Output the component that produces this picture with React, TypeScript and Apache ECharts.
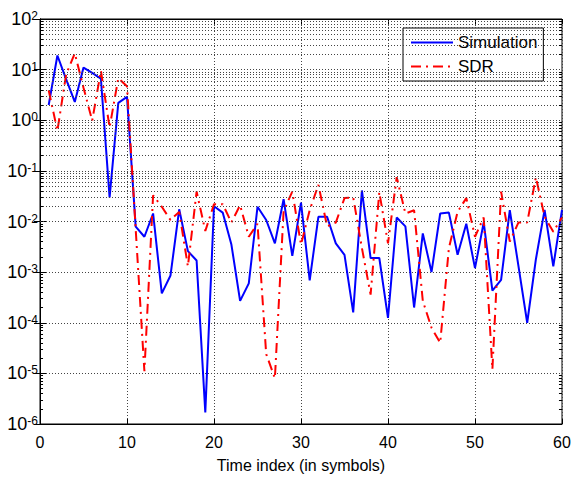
import React, { useEffect, useRef } from "react";
import * as echarts from "echarts";

const timeIndex = [
  1, 2, 3, 4, 5, 6, 7, 8, 9, 10, 11, 12, 13, 14, 15, 16, 17, 18, 19, 20,
  21, 22, 23, 24, 25, 26, 27, 28, 29, 30, 31, 32, 33, 34, 35, 36, 37, 38, 39, 40,
  41, 42, 43, 44, 45, 46, 47, 48, 49, 50, 51, 52, 53, 54, 55, 56, 57, 58, 59, 60,
];

const simulation = [
  2.0, 19, 6.5, 2.3, 11, 8.6, 6.6, 0.03, 2.2, 2.9,
  0.0079, 0.005, 0.0144, 3.8e-4, 8.6e-4, 0.0174, 0.0026, 0.0017, 1.7e-6, 0.02,
  0.015, 0.0035, 2.7e-4, 6e-4, 0.0195, 0.0107, 0.0037, 0.0275, 0.0021, 0.0235,
  6.9e-4, 0.0124, 0.0124, 0.0037, 0.0022, 1.6e-4, 0.041, 0.0019, 0.0019, 1.25e-4,
  0.012, 0.008, 2.0e-4, 0.0058, 0.001, 0.0144, 0.015, 0.0022, 0.009, 0.0012,
  0.0096, 4.3e-4, 7e-4, 0.0167, 0.0013, 1e-4, 0.0018, 0.017, 0.0013, 0.017,
];

const sdr = [
  3.9, 0.62, 8, 21, 4.4, 0.98, 9.5, 0.72, 6.8, 4.7,
  0.007, 1.1e-5, 0.033, 0.0195, 0.0107, 0.0155, 0.0013, 0.039, 0.0065, 0.022,
  0.022, 0.0096, 0.021, 0.005, 0.009, 2.4e-5, 8e-6, 0.016, 0.039, 0.0035,
  0.0167, 0.053, 0.008, 0.0095, 0.029, 0.03, 0.003, 3.6e-4, 0.038, 0.0037,
  0.075, 0.0144, 0.0167, 2.7e-4, 8e-5, 4e-5, 0.003, 0.0155, 0.029, 0.005,
  0.012, 1.2e-5, 0.039, 0.004, 0.0096, 0.0096, 0.075, 0.0124, 0.0063, 0.012,
];

const seriesNames = ["Simulation", "SDR"];
const xTitle = "Time index (in symbols)";
const decadeExponents = [-6, -5, -4, -3, -2, -1, 0, 1];
const minorMultipliers = [2, 3, 4, 5, 6, 7, 8, 9];
const xMin = 0;
const xMax = 60;

const FONT = "Liberation Sans";
const GRID_COLOR = "#444";

export default function App() {
  const ref = useRef<HTMLDivElement>(null);
  useEffect(() => {
    document.body.style.margin = "0";
    const chart = echarts.init(ref.current!, null, { renderer: "svg" });

    const minorValues: number[] = [];
    decadeExponents.forEach((e) =>
      minorMultipliers.forEach((m) => minorValues.push(m * Math.pow(10, e)))
    );

    const gridLines = minorValues.map((v) => ({ yAxis: v }));
    const tickMarks: any[] = [];
    minorValues.forEach((v) => {
      tickMarks.push([{ coord: [xMin, v] }, { coord: [xMin + 0.35, v] }]);
      tickMarks.push([{ coord: [xMax - 0.35, v] }, { coord: [xMax, v] }]);
    });

    const toPairs = (arr: number[]) => timeIndex.map((x, i) => [x, arr[i]]);

    chart.setOption({
      animation: false,
      textStyle: { fontFamily: FONT },
      grid: {
        left: 40,
        right: 12,
        top: 19,
        bottom: 51,
        show: true,
        borderColor: "#000",
        borderWidth: 1,
        backgroundColor: "#fff",
      },
      legend: {
        data: seriesNames,
        orient: "vertical",
        left: 403,
        top: 28,
        itemWidth: 42,
        itemHeight: 14,
        itemGap: 7,
        padding: [6, 6, 6, 7],
        borderColor: "#000",
        borderWidth: 1,
        backgroundColor: "#fff",
        itemStyle: { opacity: 0 },
        textStyle: { fontSize: 17, color: "#000", fontFamily: FONT },
      },
      xAxis: [
        {
          type: "value",
          min: xMin,
          max: xMax,
          interval: 10,
          name: xTitle,
          nameLocation: "middle",
          nameGap: 33,
          nameTextStyle: { fontSize: 16, color: "#000", fontFamily: FONT },
          axisLine: { show: true, lineStyle: { color: "#000", width: 1 } },
          axisTick: { show: true, inside: true, length: 5, lineStyle: { color: "#000" } },
          axisLabel: { fontSize: 16, color: "#000", margin: 10, fontFamily: FONT },
          splitLine: { show: true, lineStyle: { color: GRID_COLOR, type: [1, 2], width: 1 } },
        },
        {
          type: "value",
          position: "top",
          min: xMin,
          max: xMax,
          interval: 10,
          axisLine: { show: true, lineStyle: { color: "#000", width: 1 } },
          axisTick: { show: true, inside: true, length: 5, lineStyle: { color: "#000" } },
          axisLabel: { show: false },
          splitLine: { show: false },
        },
      ],
      yAxis: [
        {
          type: "log",
          logBase: 10,
          min: 1e-6,
          max: 100,
          axisLine: { show: true, lineStyle: { color: "#000", width: 1 } },
          axisTick: { show: true, inside: true, length: 6, lineStyle: { color: "#000" } },
          splitLine: { show: true, lineStyle: { color: GRID_COLOR, type: [1, 2], width: 1 } },
          axisLabel: {
            margin: 2,
            color: "#000",
            fontSize: 18,
            fontFamily: FONT,
            formatter: (v: number) => "{b|10}{e|" + Math.round(Math.log10(v)) + "}",
            rich: {
              b: { fontSize: 18, lineHeight: 18, verticalAlign: "bottom", fontFamily: FONT, color: "#000" },
              e: { fontSize: 12, lineHeight: 12, verticalAlign: "top", padding: [0, 0, 18, 0], fontFamily: FONT, color: "#000" },
            },
          },
        },
        {
          type: "log",
          logBase: 10,
          min: 1e-6,
          max: 100,
          position: "right",
          axisLine: { show: true, lineStyle: { color: "#000", width: 1 } },
          axisTick: { show: true, inside: true, length: 6, lineStyle: { color: "#000" } },
          axisLabel: { show: false },
          splitLine: { show: false },
        },
      ],
      series: [
        {
          name: "minorGrid",
          type: "line",
          data: [],
          silent: true,
          z: 1,
          markLine: {
            silent: true,
            symbol: ["none", "none"],
            label: { show: false },
            lineStyle: { color: GRID_COLOR, type: [1, 2], width: 1 },
            emphasis: { disabled: true },
            data: gridLines,
          },
        },
        {
          name: "minorTicks",
          type: "line",
          data: [],
          silent: true,
          z: 1,
          markLine: {
            silent: true,
            symbol: ["none", "none"],
            label: { show: false },
            lineStyle: { color: "#000", type: "solid", width: 1 },
            emphasis: { disabled: true },
            data: tickMarks,
          },
        },
        {
          name: seriesNames[0],
          type: "line",
          data: toPairs(simulation),
          showSymbol: false,
          symbol: "none",
          z: 3,
          lineStyle: { color: "#0000ff", width: 2 },
          itemStyle: { color: "#0000ff" },
        },
        {
          name: seriesNames[1],
          type: "line",
          data: toPairs(sdr),
          showSymbol: false,
          symbol: "none",
          z: 4,
          lineStyle: { color: "#ff0000", width: 2, type: [10, 5, 2, 5] },
          itemStyle: { color: "#ff0000" },
        },
      ],
    });
    return () => chart.dispose();
  }, []);
  return (
    <div
      ref={ref}
      style={{ position: "fixed", left: 0, top: 0, width: 574, height: 478, background: "#fff" }}
    />
  );
}
